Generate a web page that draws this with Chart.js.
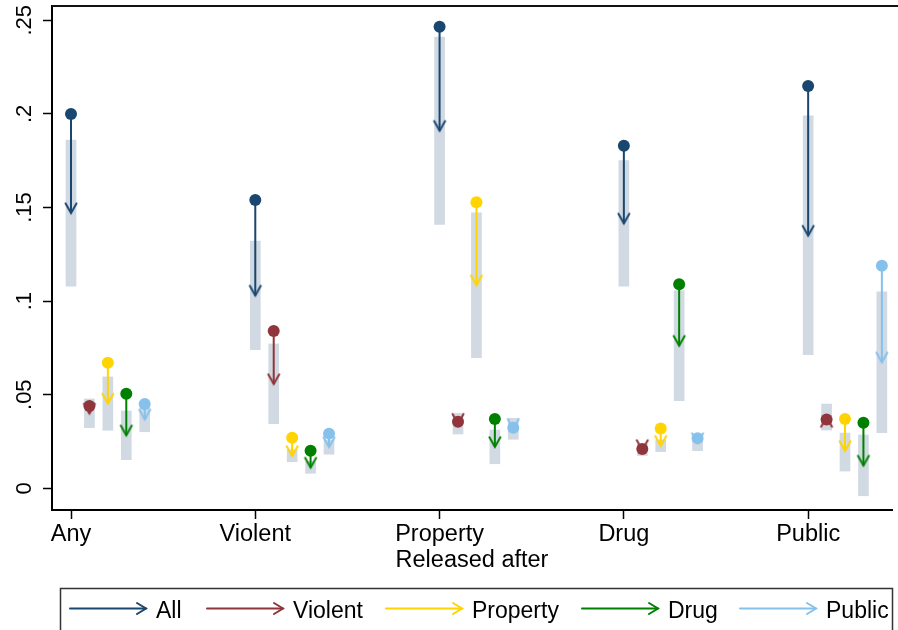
<!DOCTYPE html>
<html><head><meta charset="utf-8">
<script src="https://cdn.jsdelivr.net/npm/chart.js@4.4.0/dist/chart.umd.min.js"></script>
<style>html,body{margin:0;padding:0;background:#fff;}#wrap{width:898px;height:630px;}</style>
</head><body><div id="wrap"><canvas id="c" width="898" height="630"></canvas></div>
<script>
const categories = ['Any','Violent','Property','Drug','Public'];
const seriesNames = ['All','Violent','Property','Drug','Public'];
const xOffsets = [0, 0.1, 0.2, 0.3, 0.4];
const yTicks = [0, 0.05, 0.1, 0.15, 0.2, 0.25];
const yTickLabels = ['0', '.05', '.1', '.15', '.2', '.25'];
const xTitle = 'Released after';

const allStart = [0.200, 0.154, 0.2466, 0.183, 0.2149];
const allEnd   = [0.147, 0.103, 0.191, 0.1415, 0.135];
const allLo    = [0.108, 0.074, 0.141, 0.108, 0.0714];
const allHi    = [0.186, 0.132, 0.241, 0.175, 0.199];

const violentStart = [0.044, 0.084, 0.0355, 0.0210, 0.0367];
const violentEnd   = [0.040, 0.0557, 0.0345, 0.0205, 0.0380];
const violentLo    = [0.0324, 0.0345, 0.029, 0.0175, 0.0311];
const violentHi    = [0.0477, 0.0771, 0.040, 0.0235, 0.045];

const propertyStart = [0.067, 0.027, 0.1528, 0.032, 0.037];
const propertyEnd   = [0.0453, 0.0173, 0.1085, 0.0227, 0.0200];
const propertyLo    = [0.031, 0.0142, 0.0698, 0.0196, 0.0092];
const propertyHi    = [0.0595, 0.0205, 0.1472, 0.0258, 0.0295];

const drugStart = [0.0505, 0.0201, 0.037, 0.109, 0.035];
const drugEnd   = [0.0283, 0.0111, 0.0221, 0.0762, 0.0122];
const drugLo    = [0.0153, 0.008, 0.0131, 0.0468, -0.004];
const drugHi    = [0.0413, 0.0142, 0.0311, 0.1056, 0.0285];

const publicStart = [0.045, 0.0292, 0.0324, 0.0267, 0.1189];
const publicEnd   = [0.0368, 0.022, 0.0318, 0.0242, 0.0673];
const publicLo    = [0.0302, 0.0182, 0.0262, 0.0201, 0.0297];
const publicHi    = [0.0433, 0.0258, 0.0374, 0.028, 0.105];

const colors = ['#1a476f', '#90353b', '#ffd400', '#008000', '#86c1ec'];
const barColor = '#d1d9e2';
const FONT = 'Liberation Sans, Arial, Helvetica, sans-serif';

const series = [
  {start: allStart, end: allEnd, lo: allLo, hi: allHi},
  {start: violentStart, end: violentEnd, lo: violentLo, hi: violentHi},
  {start: propertyStart, end: propertyEnd, lo: propertyLo, hi: propertyHi},
  {start: drugStart, end: drugEnd, lo: drugLo, hi: drugHi},
  {start: publicStart, end: publicEnd, lo: publicLo, hi: publicHi}
];

function arrowHead(color) {
  const c = document.createElement('canvas');
  c.width = 16; c.height = 24;
  const g = c.getContext('2d');
  g.strokeStyle = color; g.lineWidth = 2; g.lineCap = 'round'; g.lineJoin = 'miter';
  g.beginPath(); g.moveTo(2.5, 2.3); g.lineTo(8, 12); g.lineTo(13.5, 2.3); g.stroke();
  return c;
}
const heads = colors.map(arrowHead);

const datasets = [];
series.forEach((s, j) => {
  datasets.push({
    type: 'bar', label: seriesNames[j] + ' CI',
    data: categories.map((c, i) => ({x: i + 1 + xOffsets[j], y: [s.lo[i], s.hi[i]]})),
    backgroundColor: barColor, borderWidth: 0, barThickness: 10, grouped: false, order: 30
  });
});
series.forEach((s, j) => {
  const pts = [];
  categories.forEach((c, i) => {
    const x = i + 1 + xOffsets[j];
    pts.push({x: x, y: s.start[i]}, {x: x, y: s.end[i]}, {x: x, y: null});
  });
  datasets.push({
    type: 'line', label: seriesNames[j], data: pts,
    borderColor: colors[j], borderWidth: 2, fill: false, spanGaps: false, tension: 0,
    pointRadius: ctx => (ctx.dataIndex % 3 === 1 ? 6 : 0),
    pointStyle: ctx => (ctx.dataIndex % 3 === 1 ? heads[j] : 'circle'),
    pointRotation: ctx => {
      const i = Math.floor(ctx.dataIndex / 3);
      return s.end[i] > s.start[i] ? 180 : 0;
    },
    order: 20
  });
});
series.forEach((s, j) => {
  datasets.push({
    type: 'scatter', label: seriesNames[j] + ' start',
    data: categories.map((c, i) => ({x: i + 1 + xOffsets[j], y: s.start[i]})),
    backgroundColor: colors[j], borderWidth: 0, pointRadius: 6, order: 10
  });
});

const frameAndLegend = {
  id: 'frameAndLegend',
  afterDraw(chart) {
    const ctx = chart.ctx, a = chart.chartArea;
    ctx.save();
    ctx.strokeStyle = '#111'; ctx.lineWidth = 2;
    ctx.beginPath(); ctx.moveTo(a.left, a.top); ctx.lineTo(chart.width, a.top); ctx.stroke();
    // legend box
    ctx.strokeStyle = '#333'; ctx.lineWidth = 1.5;
    ctx.strokeRect(60.5, 588.5, 832, 60);
    const starts = [70, 207, 386, 582, 740];
    const ly = 608.5;
    ctx.font = '23px ' + FONT;
    ctx.textBaseline = 'alphabetic';
    ctx.fillStyle = '#000';
    seriesNames.forEach((n, j) => {
      const x0 = starts[j], x1 = x0 + 76;
      ctx.strokeStyle = colors[j]; ctx.lineWidth = 2; ctx.lineCap = 'round';
      ctx.beginPath(); ctx.moveTo(x0, ly); ctx.lineTo(x1, ly); ctx.stroke();
      ctx.beginPath(); ctx.moveTo(x1 - 9, ly - 5.5); ctx.lineTo(x1, ly); ctx.lineTo(x1 - 9, ly + 5.5); ctx.stroke();
      ctx.fillText(n, x1 + 10, 617.5);
    });
    ctx.restore();
  }
};

new Chart(document.getElementById('c'), {
  type: 'scatter',
  data: {datasets},
  plugins: [frameAndLegend],
  options: {
    responsive: false, animation: false, events: [],
    layout: {padding: {top: 6, left: 0, right: 0, bottom: 45}},
    plugins: {legend: {display: false}, tooltip: {enabled: false}, title: {display: false}},
    scales: {
      x: {
        type: 'linear', min: 0.8969, max: 5.455, offset: false,
        afterFit: s => { s.height = 75; s.paddingLeft = 0; s.paddingRight = 0; },
        afterBuildTicks: axis => { axis.ticks = categories.map((c, i) => ({value: i + 1})); },
        ticks: {callback: (v, i) => categories[i], autoSkip: false, maxRotation: 0, minRotation: 0,
                padding: 1, color: '#000', font: {size: 23.5, family: FONT}},
        grid: {display: true, offset: false, drawOnChartArea: false, drawTicks: true, tickLength: 9, tickColor: '#000', tickWidth: 1.5},
        border: {display: true, color: '#000', width: 2},
        title: {display: true, text: xTitle, color: '#000', font: {size: 23.5, family: FONT}, padding: {top: 0, bottom: 10}}
      },
      y: {
        type: 'linear', min: -0.0116, max: 0.25764,
        afterFit: s => { s.width = 52; s.paddingTop = 0; s.paddingBottom = 0; },
        afterBuildTicks: axis => { axis.ticks = yTicks.map(v => ({value: v})); },
        ticks: {callback: (v, i) => yTickLabels[i], minRotation: 90, maxRotation: 90, crossAlign: 'center',
                padding: 3, color: '#000', font: {size: 22, family: FONT}},
        grid: {display: true, offset: false, drawOnChartArea: false, drawTicks: true, tickLength: 9, tickColor: '#000', tickWidth: 1.5},
        border: {display: true, color: '#000', width: 2}
      }
    }
  }
});
</script></body></html>
